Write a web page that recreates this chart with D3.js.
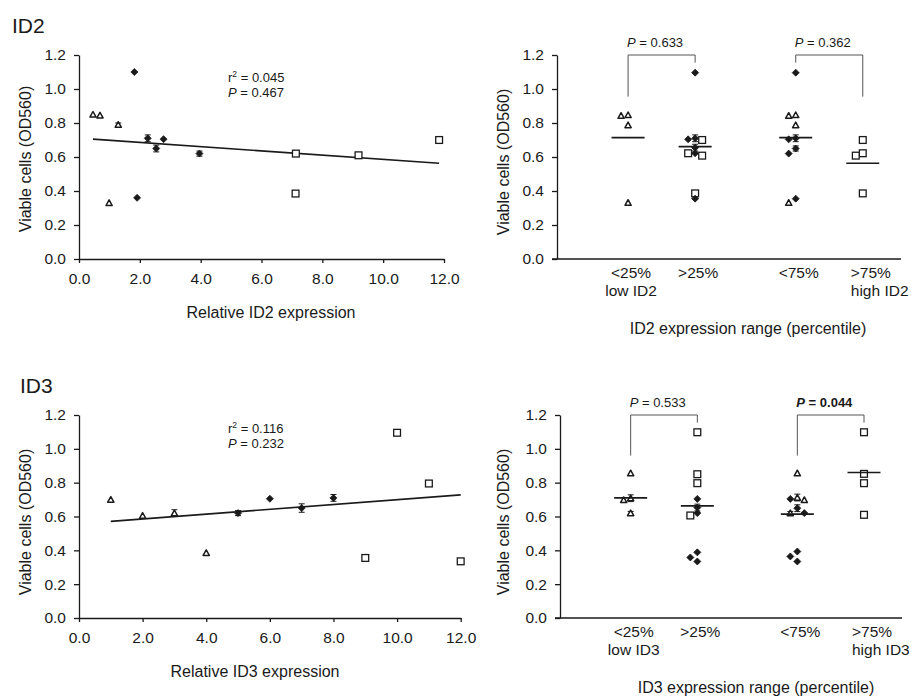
<!DOCTYPE html>
<html>
<head>
<meta charset="utf-8">
<script src="https://cdn.jsdelivr.net/npm/d3@7"></script>
<style>
  body { margin: 0; background: #fff; }
  svg { display: block; font-family: "Liberation Sans", Arial, sans-serif; }
</style>
</head>
<body>
<script>
// ---------- data ----------
var yTicks = [0, 0.2, 0.4, 0.6, 0.8, 1.0, 1.2];
var xTicks = [0, 2, 4, 6, 8, 10, 12];

// ID2 scatter (relative expression vs viable cells)
var id2TriX = [0.46, 0.69, 1.29, 0.99];
var id2TriY = [0.85, 0.845, 0.79, 0.33];
var id2TriErr = [0, 0, 0.01, 0];
var id2DiaX = [1.82, 1.91, 2.26, 2.54, 2.78, 3.96];
var id2DiaY = [1.10, 0.36, 0.71, 0.65, 0.705, 0.62];
var id2DiaErr = [0, 0, 0.02, 0.02, 0, 0.015];
var id2SqX = [7.13, 7.12, 9.19, 11.84];
var id2SqY = [0.62, 0.385, 0.61, 0.70];
var id2FitX = [0.46, 11.84];
var id2FitY = [0.705, 0.563];
var id2Stats = ["0.045", "0.467"];

// ID3 scatter
var id3TriX = [1, 2, 3, 4];
var id3TriY = [0.70, 0.605, 0.62, 0.385];
var id3TriErr = [0, 0, 0.02, 0];
var id3DiaX = [5, 6, 7, 8];
var id3DiaY = [0.62, 0.705, 0.65, 0.71];
var id3DiaErr = [0.015, 0, 0.025, 0.02];
var id3SqX = [9, 10, 11, 12];
var id3SqY = [0.355, 1.095, 0.795, 0.335];
var id3FitX = [1, 12];
var id3FitY = [0.571, 0.728];
var id3Stats = ["0.116", "0.232"];

// ID2 expression range groups (t = triangle, d = diamond, s = square)
var id2Cats = [["<25%", "low ID2"], [">25%"], ["<75%"], [">75%", "high ID2"]];
var id2GrpVals = [
  [0.847, 0.843, 0.788, 0.331],
  [1.096, 0.71, 0.704, 0.70, 0.655, 0.622, 0.622, 0.608, 0.386, 0.355],
  [1.096, 0.847, 0.843, 0.788, 0.71, 0.704, 0.65, 0.62, 0.355, 0.331],
  [0.70, 0.622, 0.608, 0.386]
];
var id2GrpMarks = ["tttt", "dddsddsssd", "dtttdddddt", "ssss"];
var id2GrpErr = [
  [0, 0, 0, 0],
  [0, 0.02, 0, 0, 0.02, 0, 0, 0, 0, 0],
  [0, 0, 0, 0, 0.02, 0, 0.015, 0, 0, 0],
  [0, 0, 0, 0]
];
var id2GrpMeans = [0.714, 0.661, 0.714, 0.563];
var id2PVals = ["0.633", "0.362"];
var id2PBold = [false, false];
var id2Legs = [[0.955, 1.155], [1.155, 0.955]];

// ID3 expression range groups
var id3Cats = [["<25%", "low ID3"], [">25%"], ["<75%"], [">75%", "high ID3"]];
var id3GrpVals = [
  [0.856, 0.708, 0.698, 0.62],
  [1.098, 0.85, 0.797, 0.704, 0.653, 0.62, 0.606, 0.388, 0.358, 0.334],
  [0.856, 0.712, 0.704, 0.698, 0.649, 0.62, 0.62, 0.393, 0.364, 0.334],
  [1.098, 0.852, 0.797, 0.61]
];
var id3GrpMarks = ["tttt", "sssdddsddd", "ttdtdtdddd", "ssss"];
var id3GrpErr = [
  [0, 0.02, 0, 0.01],
  [0, 0, 0, 0, 0.02, 0, 0, 0, 0, 0],
  [0, 0.02, 0, 0, 0.02, 0.01, 0, 0, 0, 0],
  [0, 0, 0, 0]
];
var id3GrpMeans = [0.71, 0.663, 0.614, 0.86];
var id3PVals = ["0.533", "0.044"];
var id3PBold = [false, true];
var id3Legs = [[0.96, 1.155], [0.96, 1.155]];

// ---------- drawing ----------
var W = 919, H = 698;
var ink = "#1a1a1a";
var svg = d3.select("body").append("svg").attr("width", W).attr("height", H);

function drawMark(g, kind, cx, cy) {
  if (kind === "t") {
    g.append("path")
      .attr("d", "M" + cx + "," + (cy - 3) + "L" + (cx + 3.1) + "," + (cy + 2.6) + "L" + (cx - 3.1) + "," + (cy + 2.6) + "Z")
      .attr("fill", "#fff").attr("stroke", ink).attr("stroke-width", 1.5).attr("stroke-linejoin", "round");
  } else if (kind === "d") {
    g.append("path")
      .attr("d", "M" + cx + "," + (cy - 3.5) + "L" + (cx + 3.5) + "," + cy + "L" + cx + "," + (cy + 3.5) + "L" + (cx - 3.5) + "," + cy + "Z")
      .attr("fill", ink).attr("stroke", ink).attr("stroke-width", 0.8).attr("stroke-linejoin", "round");
  } else {
    g.append("rect").attr("x", cx - 3.4).attr("y", cy - 3.4).attr("width", 6.8).attr("height", 6.8)
      .attr("fill", "#fff").attr("stroke", ink).attr("stroke-width", 1.3);
  }
}

function drawErr(g, cx, y, v, e) {
  if (!e) return;
  var y0 = y(v - e), y1 = y(v + e);
  g.append("line").attr("x1", cx).attr("x2", cx).attr("y1", y0).attr("y2", y1).attr("stroke", ink).attr("stroke-width", 1);
  [y0, y1].forEach(function (yy) {
    g.append("line").attr("x1", cx - 3).attr("x2", cx + 3).attr("y1", yy).attr("y2", yy).attr("stroke", ink).attr("stroke-width", 1);
  });
}

function yAxis(g, y, left) {
  var ax = g.append("g").attr("transform", "translate(" + left + ",0)")
    .call(d3.axisLeft(y).tickValues(yTicks).tickFormat(d3.format(".1f")).tickSize(5).tickPadding(8).tickSizeOuter(0));
  ax.selectAll("text").attr("font-size", 15.5).attr("fill", ink).attr("font-family", null);
  ax.selectAll("line,path").attr("stroke", ink).attr("stroke-width", 1.3);
  return ax;
}

function yTitle(g, cx, cy) {
  g.append("text").attr("transform", "translate(" + (cx + 5.5) + "," + cy + ") rotate(-90)")
    .attr("text-anchor", "middle").attr("font-size", 16).attr("fill", ink).text("Viable cells (OD560)");
}

function statText(g, x, y, lead, val, bold) {
  var t = g.append("text").attr("x", x).attr("y", y).attr("font-size", 13).attr("fill", ink)
    .attr("font-weight", bold ? "bold" : null);
  if (lead === "r2") {
    t.append("tspan").text("r");
    t.append("tspan").attr("font-size", 8.5).attr("dy", -5).text("2");
    t.append("tspan").attr("dy", 5).text(" = " + val);
  } else {
    t.append("tspan").attr("font-style", "italic").text("P");
    t.append("tspan").text(" = " + val);
  }
}

function scatterPanel(p) {
  var g = svg.append("g");
  var x = d3.scaleLinear().domain([0, 12]).range([p.left, p.right]);
  var y = d3.scaleLinear().domain([0, 1.2]).range([p.bottom, p.top]);

  g.append("text").attr("x", p.titleX).attr("y", p.titleY).attr("font-size", 21).attr("fill", ink).text(p.title);

  yAxis(g, y, p.left);
  var xa = g.append("g").attr("transform", "translate(0," + p.bottom + ")")
    .call(d3.axisBottom(x).tickValues(xTicks).tickFormat(d3.format(".1f")).tickSize(4).tickPadding(10).tickSizeOuter(0));
  xa.selectAll("text").attr("font-size", 15.5).attr("fill", ink).attr("font-family", null);
  xa.selectAll("line,path").attr("stroke", ink).attr("stroke-width", 1.3);

  yTitle(g, 25, p.yTitleY);
  g.append("text").attr("x", p.xLabelX).attr("y", p.bottom + 59).attr("text-anchor", "middle")
    .attr("font-size", 16).attr("fill", ink).text(p.xLabel);

  // regression line
  g.append("line").attr("x1", x(p.fitX[0])).attr("y1", y(p.fitY[0]))
    .attr("x2", x(p.fitX[1])).attr("y2", y(p.fitY[1])).attr("stroke", ink).attr("stroke-width", 1.6);

  p.series.forEach(function (s) {
    s.x.forEach(function (xv, i) {
      drawErr(g, x(xv), y, s.y[i], s.err ? s.err[i] : 0);
      drawMark(g, s.mark, x(xv), y(s.y[i]));
    });
  });

  statText(g, 228, p.statY, "r2", p.stats[0]);
  statText(g, 228, p.statY + 15, "P", p.stats[1]);
}

// greedy side-by-side placement of points with close values
function swarm(vals, y, step, minGap) {
  var order = vals.map(function (v, i) { return i; }).sort(function (a, b) { return vals[b] - vals[a]; });
  var cols = new Array(vals.length), placed = [];
  var tries = [0, -1, 1, -2, 2];
  order.forEach(function (i) {
    var py = y(vals[i]);
    for (var k = 0; k < tries.length; k++) {
      var c = tries[k];
      var hit = placed.some(function (q) { return q.c === c && Math.abs(q.py - py) < minGap; });
      if (!hit) { cols[i] = c * step; placed.push({ c: c, py: py }); return; }
    }
    cols[i] = 0;
  });
  return cols;
}

function groupPanel(p) {
  var g = svg.append("g");
  var x = d3.scaleLinear().domain([-0.06, 5.07]).range([p.left, p.right]);
  var y = d3.scaleLinear().domain([0, 1.2]).range([p.bottom, p.top]);
  var catPos = p.cats.map(function (c, i) { return i < 2 ? i + 1 : i + 1.5; });

  yAxis(g, y, p.left);
  g.append("line").attr("x1", p.left - 5).attr("x2", p.right).attr("y1", p.bottom).attr("y2", p.bottom)
    .attr("stroke", ink).attr("stroke-width", 1.3);

  yTitle(g, 503, p.yTitleY);
  g.append("text").attr("x", p.xLabelX).attr("y", p.bottom + 75).attr("text-anchor", "middle")
    .attr("font-size", 16).attr("fill", ink).text(p.xLabel);

  // category labels
  p.cats.forEach(function (lines, i) {
    var cx = x(catPos[i]);
    var last = i === p.cats.length - 1;
    lines.forEach(function (ln, j) {
      g.append("text").attr("x", last ? cx - 12 : cx + 3).attr("y", p.bottom + 18.5 + j * 18.5)
        .attr("text-anchor", last ? "start" : "middle").attr("font-size", 15.5).attr("fill", ink).text(ln);
    });
  });

  // points
  p.vals.forEach(function (vals, i) {
    var cx = x(catPos[i]);
    var off = swarm(vals, y, 7, 5.2);
    vals.forEach(function (v, k) {
      drawErr(g, cx + off[k], y, v, p.err[i][k]);
      drawMark(g, p.marks[i][k], cx + off[k], y(v));
    });
    g.append("line").attr("x1", cx - 16.5).attr("x2", cx + 16.5)
      .attr("y1", y(p.means[i])).attr("y2", y(p.means[i])).attr("stroke", ink).attr("stroke-width", 1.6);
  });

  // significance brackets between category pairs
  [[0, 1], [2, 3]].forEach(function (pair, b) {
    var xa = x(catPos[pair[0]]), xb = x(catPos[pair[1]]);
    var top = y(1.2);
    g.append("path")
      .attr("d", "M" + xa + "," + y(p.legs[b][0]) + "V" + top + "H" + xb + "V" + y(p.legs[b][1]))
      .attr("fill", "none").attr("stroke", "#555").attr("stroke-width", 1);
    statText(g, xa - 1, top - 8, "P", p.pvals[b], p.bold[b]);
  });
}

scatterPanel({
  left: 79, right: 444, top: 55, bottom: 259,
  title: "ID2", titleX: 12, titleY: 33, yTitleY: 159,
  xLabel: "Relative ID2 expression", xLabelX: 271,
  fitX: id2FitX, fitY: id2FitY, stats: id2Stats, statY: 82,
  series: [
    { x: id2TriX, y: id2TriY, err: id2TriErr, mark: "t" },
    { x: id2DiaX, y: id2DiaY, err: id2DiaErr, mark: "d" },
    { x: id2SqX, y: id2SqY, mark: "s" }
  ]
});

scatterPanel({
  left: 79, right: 460.7, top: 415, bottom: 618,
  title: "ID3", titleX: 20, titleY: 393, yTitleY: 522,
  xLabel: "Relative ID3 expression", xLabelX: 255,
  fitX: id3FitX, fitY: id3FitY, stats: id3Stats, statY: 433,
  series: [
    { x: id3TriX, y: id3TriY, err: id3TriErr, mark: "t" },
    { x: id3DiaX, y: id3DiaY, err: id3DiaErr, mark: "d" },
    { x: id3SqX, y: id3SqY, mark: "s" }
  ]
});

groupPanel({
  left: 557, right: 901, top: 55, bottom: 259, yTitleY: 162,
  xLabel: "ID2 expression range (percentile)", xLabelX: 748,
  cats: id2Cats, vals: id2GrpVals, marks: id2GrpMarks, err: id2GrpErr, means: id2GrpMeans,
  pvals: id2PVals, bold: id2PBold, legs: id2Legs
});

groupPanel({
  left: 560, right: 902, top: 415, bottom: 618, yTitleY: 522,
  xLabel: "ID3 expression range (percentile)", xLabelX: 756,
  cats: id3Cats, vals: id3GrpVals, marks: id3GrpMarks, err: id3GrpErr, means: id3GrpMeans,
  pvals: id3PVals, bold: id3PBold, legs: id3Legs
});
</script>
</body>
</html>
